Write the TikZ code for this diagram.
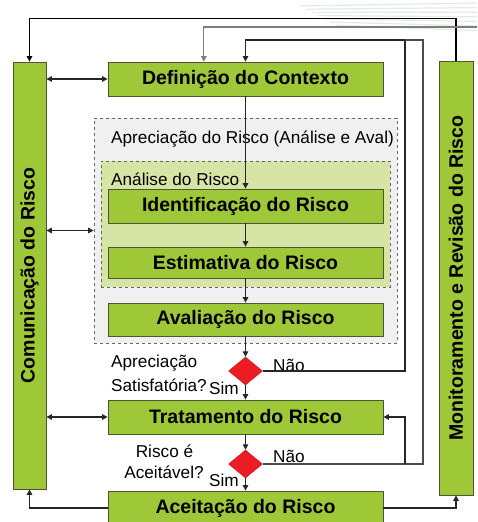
\documentclass[tikz,border=0pt]{standalone}
\usepackage{fontspec}
\setmainfont{Liberation Sans}
\usetikzlibrary{arrows.meta,shapes.geometric,shadows,calc}
\definecolor{boxgreen}{RGB}{158,200,55}
\definecolor{boxedge}{RGB}{75,85,55}
\definecolor{lightgreen}{RGB}{214,229,166}
\definecolor{lightgray}{RGB}{240,240,240}
\definecolor{diamred}{RGB}{237,28,36}
\definecolor{linegray}{RGB}{125,125,125}
\definecolor{wmark}{RGB}{226,236,226}
\begin{document}
\begin{tikzpicture}[x=1pt,y=-1pt,
  greenbox/.style={draw=boxedge, line width=0.8pt, fill=boxgreen, inner sep=0pt,
    font=\fontsize{19.5}{22}\selectfont\bfseries,
    drop shadow={shadow xshift=1.3pt, shadow yshift=-1.3pt, fill=black!75, opacity=0.7}},
  hbox/.style={greenbox, minimum width=275pt, minimum height=34pt},
  dashbox/.style={draw=black!60, dashed, line width=0.7pt, inner sep=0pt},
  decision/.style={diamond, fill=diamred, draw=diamred!80!black, line width=0.4pt, inner sep=0pt,
    minimum width=34pt, minimum height=28pt},
  lbl/.style={inner sep=0pt, font=\fontsize{17.2}{20}\selectfont},
  conn/.style={line width=1.1pt, black!85},
  arr/.style={conn, -{Triangle[length=5.5pt,width=5.5pt]}},
  dblarr/.style={conn, {Triangle[length=5.5pt,width=5.5pt]}-{Triangle[length=5.5pt,width=5.5pt]}}
]
\useasboundingbox (0,0) rectangle (477,522);
\fill[white] (0,0) rectangle (477,522);

% faint watermark stripes
\foreach \i in {0,...,6}
  \draw[wmark, line width=1.2pt] (300+\i*6,6+\i*3.2) -- (477,3+\i*4.6);

% grouping boxes
\node[dashbox, fill=lightgray, minimum width=303pt, minimum height=225pt] (aprec) at (245.5,230.5) {};
\node[dashbox, fill=lightgreen, minimum width=289pt, minimum height=126pt] (anal) at (245.5,224) {};
\node[lbl, anchor=west] (aprectitle) at (111,139) {Apreciação do Risco (Análise e Aval)};
\node[lbl, anchor=west] (analtitle) at (111,179) {Análise do Risco};

% side boxes
\node[greenbox, minimum width=33pt, minimum height=427pt] (comm) at (29.5,275.5)
  {\rotatebox{90}{Comunicação do Risco}};
\node[greenbox, minimum width=34pt, minimum height=434pt] (monit) at (456,278)
  {\rotatebox{90}{Monitoramento e Revisão do Risco}};

% main flow boxes
\node[hbox] (defin) at (245.5,79) {Definição do Contexto};
\node[hbox] (ident) at (245.5,206) {Identificação do Risco};
\node[hbox, minimum height=31pt] (estim) at (245.5,262.5) {Estimativa do Risco};
\node[hbox, minimum height=33pt] (aval) at (245.5,319.5) {Avaliação do Risco};
\node[hbox] (trat) at (245.5,417) {Tratamento do Risco};
\node[hbox] (acei) at (245.5,508) {Aceitação do Risco};

% decisions
\node[decision] (d1) at (245.5,371) {};
\node[decision] (d2) at (245.5,464) {};

% decision labels
\node[lbl, anchor=west] (q1a) at (111,363) {Apreciação};
\node[lbl, anchor=west] (q1b) at (111,385) {Satisfatória?};
\node[lbl, anchor=west] (sim1) at (209,388) {Sim};
\node[lbl, anchor=west] (nao1) at (273,365) {Não};
\node[lbl] (q2a) at (164.5,451) {Risco é};
\node[lbl] (q2b) at (164,472) {Aceitável?};
\node[lbl, anchor=west] (sim2) at (209,480) {Sim};
\node[lbl, anchor=west] (nao2) at (273,456) {Não};

% feedback coordinates
\coordinate (fbL) at (405,40);
\coordinate (fbR) at (423,40);
\coordinate (grayin) at (477,27);
\coordinate (dtop) at ($(defin.north west)!0.349!(defin.north east)$);

% main flow
\draw[arr] (defin.south) -- (ident.north);
\draw[arr] (ident.south) -- (estim.north);
\draw[arr] (estim.south) -- (aval.north);
\draw[arr] (aval.south) -- (d1.north);
\draw[arr] (d1.south) -- (trat.north);
\draw[arr] (trat.south) -- (d2.north);
\draw[arr] (d2.south) -- (acei.north);

% "Não" feedback loops
\draw[arr] (d1.east) -| (fbL) -- (defin.north |- fbL) -- (defin.north);
\draw[conn, black!70] (d2.east) -| (fbR) -- (fbL);
\draw[arr] (fbL |- d2.east) |- (trat.east);

% monitoring to communication
\draw[arr, black] (monit.north) -- ++(0,-42) -| (comm.north);
\draw[arr, linegray] (grayin) -| (dtop);

% communication links
\draw[dblarr] (comm.east |- defin.west) -- (defin.west);
\draw[dblarr] (comm.east |- aprec.west) -- (aprec.west);
\draw[dblarr] (comm.east |- trat.west) -- (trat.west);

% acceptance outputs
\draw[arr] (acei.west) -| (comm.south);
\draw[arr] (acei.east) -| (monit.south);
\end{tikzpicture}
\end{document}
